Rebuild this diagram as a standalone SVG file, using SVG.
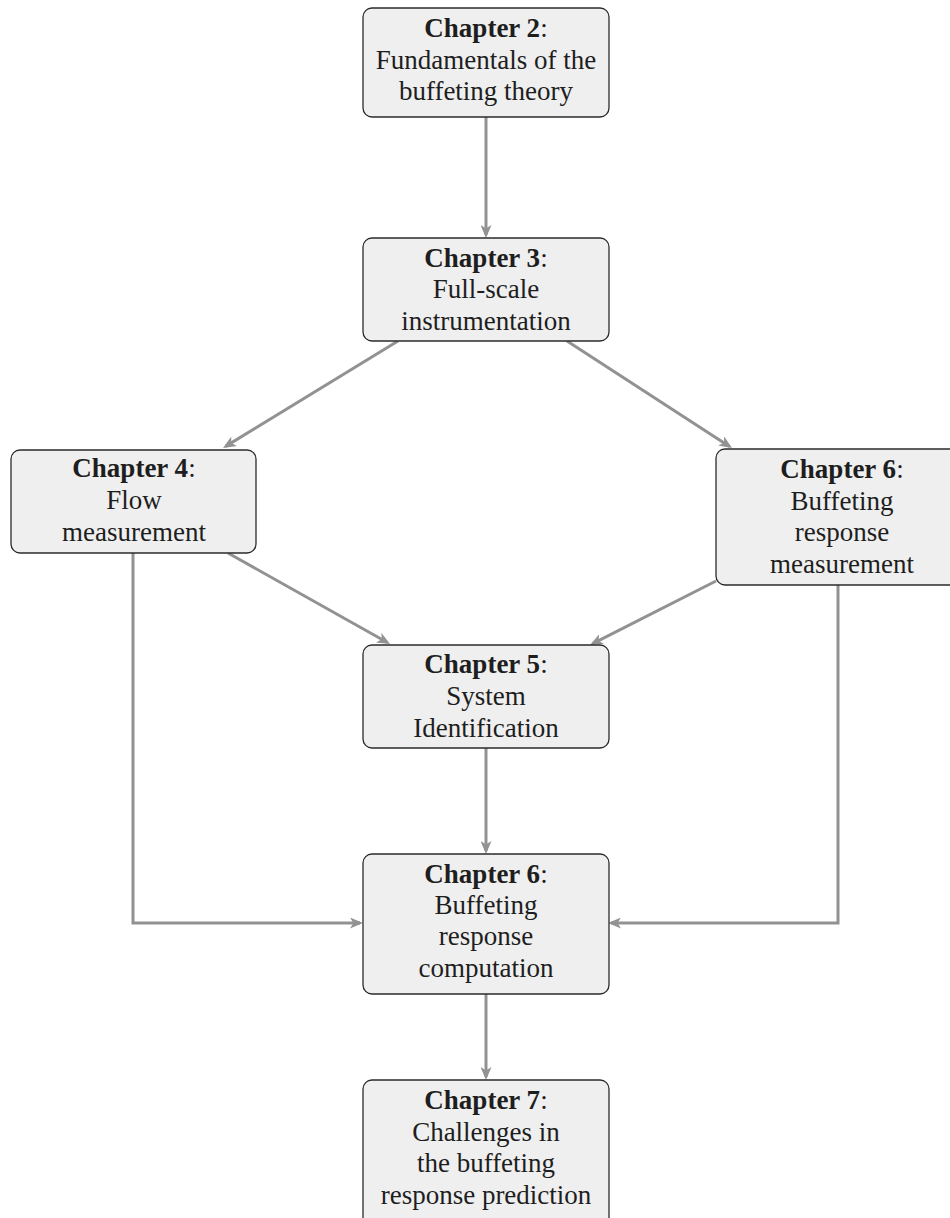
<svg xmlns="http://www.w3.org/2000/svg" width="950" height="1218" viewBox="0 0 950 1218">
<style>
.box{fill:#efefef;stroke:#2b2b2b;stroke-width:1.3}
.t{font-family:"Liberation Serif","Times New Roman",serif;font-size:27px;fill:#1e1e1e;text-anchor:middle}
.b{font-weight:bold}
.c{fill:none;stroke:#929292;stroke-width:3;marker-end:url(#ah)}
</style>
<defs>
<marker id="ah" viewBox="0 0 13 11" refX="10" refY="5.5" markerWidth="13" markerHeight="11" markerUnits="userSpaceOnUse" orient="auto">
<path d="M0,0 L13,5.5 L0,11 L3.5,5.5 z" fill="#929292"/>
</marker>
</defs>
<rect width="950" height="1218" fill="#ffffff"/>
<g id="connectors">
<path class="c" d="M486,117 V235"/>
<path class="c" d="M398,341 L225.6,446.4"/>
<path class="c" d="M567,341 L729.5,446.4"/>
<path class="c" d="M228,553 L387.4,642.5"/>
<path class="c" d="M716,581 L592.7,643.6"/>
<path class="c" d="M486,748 V851"/>
<path class="c" d="M133,553 V923 H360"/>
<path class="c" d="M838,585 V923 H611"/>
<path class="c" d="M486,994 V1077"/>
</g>
<g id="ch2">
<rect class="box" x="363" y="8" width="246" height="109" rx="9"/>
<text class="t" x="486" y="37"><tspan class="b">Chapter 2</tspan>:</text>
<text class="t" x="486" y="69">Fundamentals of the</text>
<text class="t" x="486" y="100">buffeting theory</text>
</g>
<g id="ch3">
<rect class="box" x="363" y="238" width="246" height="103" rx="9"/>
<text class="t" x="486" y="267"><tspan class="b">Chapter 3</tspan>:</text>
<text class="t" x="486" y="298">Full-scale</text>
<text class="t" x="486" y="330">instrumentation</text>
</g>
<g id="ch4">
<rect class="box" x="11" y="450" width="245" height="103" rx="9"/>
<text class="t" x="134" y="477"><tspan class="b">Chapter 4</tspan>:</text>
<text class="t" x="134" y="509">Flow</text>
<text class="t" x="134" y="541">measurement</text>
</g>
<g id="ch6m">
<rect class="box" x="716" y="449" width="254" height="136" rx="9"/>
<text class="t" x="842" y="478"><tspan class="b">Chapter 6</tspan>:</text>
<text class="t" x="842" y="510">Buffeting</text>
<text class="t" x="842" y="541">response</text>
<text class="t" x="842" y="573">measurement</text>
</g>
<g id="ch5">
<rect class="box" x="363" y="645" width="246" height="103" rx="9"/>
<text class="t" x="486" y="673"><tspan class="b">Chapter 5</tspan>:</text>
<text class="t" x="486" y="705">System</text>
<text class="t" x="486" y="737">Identification</text>
</g>
<g id="ch6c">
<rect class="box" x="363" y="854" width="246" height="140" rx="9"/>
<text class="t" x="486" y="883"><tspan class="b">Chapter 6</tspan>:</text>
<text class="t" x="486" y="914">Buffeting</text>
<text class="t" x="486" y="945">response</text>
<text class="t" x="486" y="977">computation</text>
</g>
<g id="ch7">
<rect class="box" x="363" y="1080" width="246" height="150" rx="9"/>
<text class="t" x="486" y="1109"><tspan class="b">Chapter 7</tspan>:</text>
<text class="t" x="486" y="1141">Challenges in</text>
<text class="t" x="486" y="1172">the buffeting</text>
<text class="t" x="486" y="1204">response prediction</text>
</g>
</svg>
